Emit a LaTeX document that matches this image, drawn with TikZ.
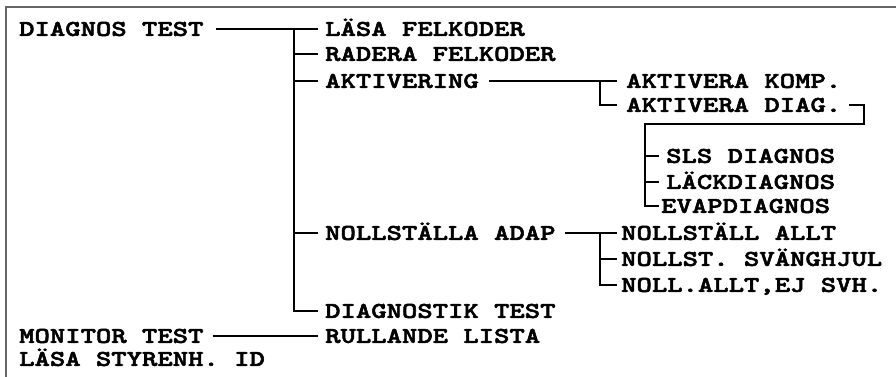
\documentclass[tikz,border=0pt]{standalone}
\usepackage{fontspec}
\usepackage{tikz}
\usetikzlibrary{calc}
\newfontfamily\menufont{lmmonolt10-bold.otf}[FakeStretch=1.3,FakeBold=2.5]

\begin{document}
\begin{tikzpicture}[x=1pt,y=-1pt,
menu/.style={anchor=west,inner sep=0pt,text height=13.7pt,text depth=0pt,
  font=\menufont\fontsize{22.5}{22.5}\selectfont},
link/.style={line width=1.1pt}]
\useasboundingbox (0,0) rectangle (896,376);
\draw[gray!80!black,line width=2pt] (6,380) -- (6,7) -- (900,7);

% top level
\node[menu] (dt) at (19,29) {DIAGNOS TEST};
\node[menu] (mt) at (19,336) {MONITOR TEST};
\node[menu] (ls) at (19,359) {LÄSA STYRENH. ID};

% diagnos test
\node[menu] (lf) at (325,29) {LÄSA FELKODER};
\node[menu] (rf) at (325,54) {RADERA FELKODER};
\node[menu] (ak) at (325,81) {AKTIVERING};
\node[menu] (na) at (325,233) {NOLLSTÄLLA ADAP};
\node[menu] (dg) at (325,311) {DIAGNOSTIK TEST};
\node[menu] (rl) at (325,336) {RULLANDE LISTA};

% aktivering
\node[menu] (ak1) at (626,81) {AKTIVERA KOMP.};
\node[menu] (ak2) at (626,105) {AKTIVERA DIAG.};
\node[menu] (sls) at (666,156) {SLS DIAGNOS};
\node[menu] (lk) at (666,182) {LÄCKDIAGNOS};
\node[menu] (ev) at (661,206) {EVAPDIAGNOS};

% nollstalla adap
\node[menu] (na1) at (621,233) {NOLLSTÄLL ALLT};
\node[menu] (na2) at (621,259) {NOLLST. SVÄNGHJUL};
\node[menu] (na3) at (621,285) {NOLL.ALLT,EJ SVH.};

\coordinate (tr) at (294,29);
\coordinate (tra) at (600,81);
\coordinate (trb) at (645,124);
\coordinate (trn) at (600,233);

\draw[link] ([xshift=12]dt.east) -- ([xshift=-7]lf.west);
\draw[link] (tr) -- (tr |- dg.west) -- ([xshift=-7]dg.west);
\draw[link] (tr |- rf.west) -- ([xshift=-7]rf.west);
\draw[link] (tr |- ak.west) -- ([xshift=-7]ak.west);
\draw[link] (tr |- na.west) -- ([xshift=-7]na.west);
\draw[link] ([xshift=9]mt.east) -- ([xshift=-7]rl.west);

\draw[link] ([xshift=10]ak.east) -- ([xshift=-9]ak1.west);
\draw[link] (tra) -- (tra |- ak2.west) -- ([xshift=-9]ak2.west);
\draw[link] ([xshift=8]ak2.east) -| (864,124) -- (trb) -- (trb |- ev.west) -- ([xshift=-2]ev.west);
\draw[link] (trb |- sls.west) -- ([xshift=-7]sls.west);
\draw[link] (trb |- lk.west) -- ([xshift=-7]lk.west);

\draw[link] ([xshift=9]na.east) -- ([xshift=-4]na1.west);
\draw[link] (trn) -- (trn |- na3.west) -- ([xshift=-4]na3.west);
\draw[link] (trn |- na2.west) -- ([xshift=-4]na2.west);
\end{tikzpicture}
\end{document}
